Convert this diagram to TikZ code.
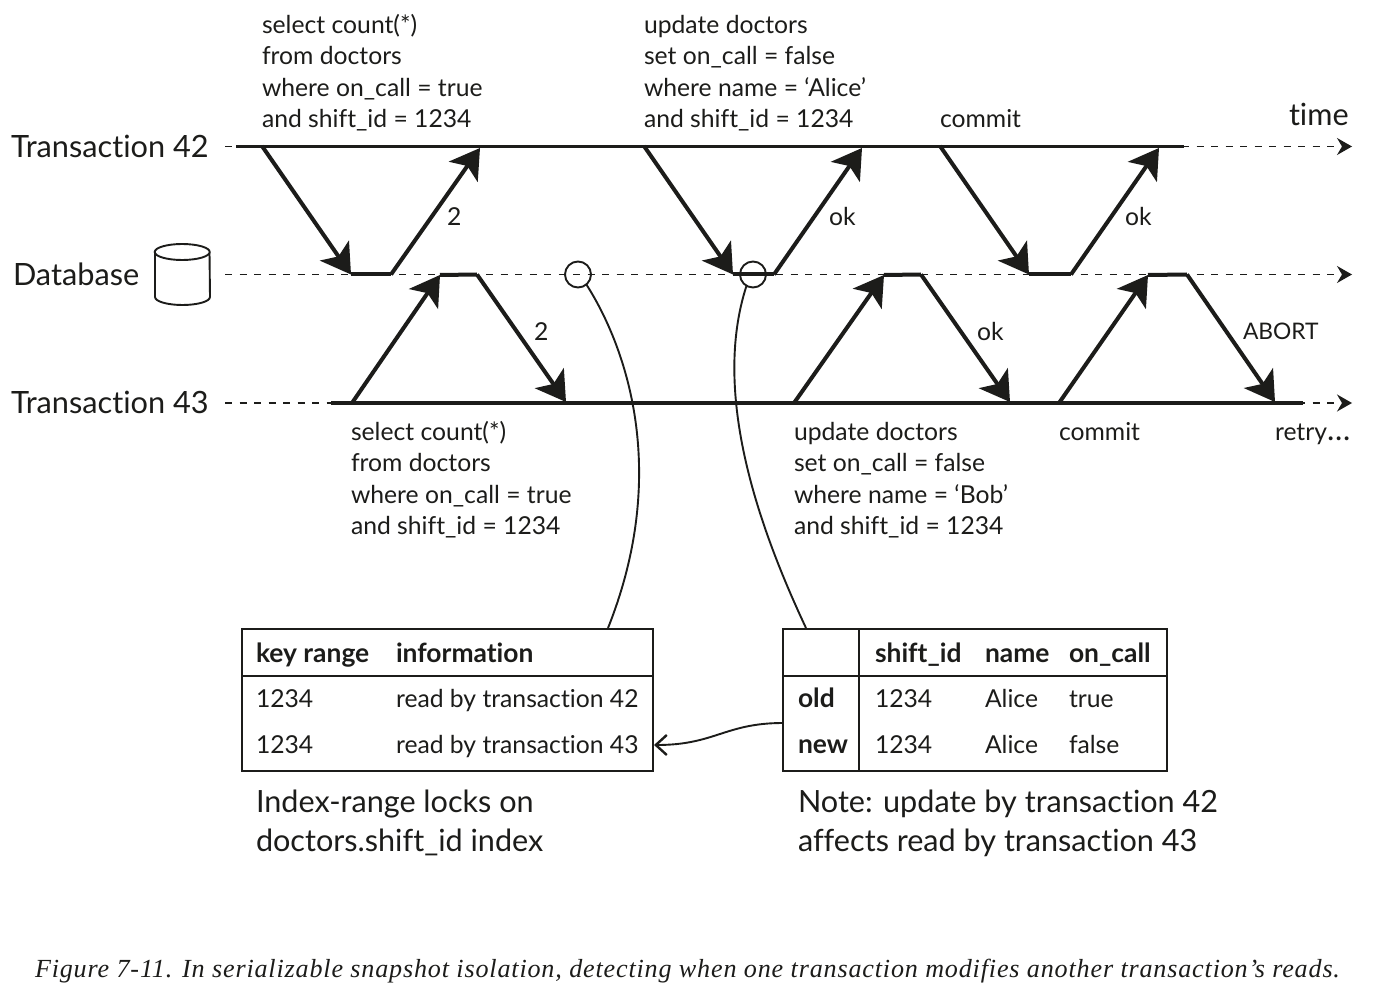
\documentclass[tikz,border=0pt]{standalone}
\usepackage{fontspec}
\setmainfont[Ligatures=CommonOff]{Lato}
\newfontfamily\capfont[LetterSpace=3.2]{Liberation Serif}
\usetikzlibrary{arrows.meta}
\definecolor{ink}{HTML}{1C1C1A}
\tikzset{
  x=1pt,y=-1pt,
  every node/.style={inner sep=0pt,outer sep=0pt,text=ink},
  small/.style={anchor=base west,font=\fontsize{24.7}{24.7}\selectfont},
  smallb/.style={anchor=base west,font=\fontsize{26.4}{26.4}\selectfont\bfseries},
  big/.style={anchor=base west,font=\fontsize{30.7}{30.7}\selectfont},
  mid/.style={anchor=base west,font=\fontsize{30.6}{30.6}\selectfont},
  timeline/.style={ink,line width=3.4pt},
  dashline/.style={ink,line width=1.6pt,dash pattern=on 7pt off 7.5pt,-{Stealth[length=15pt,width=17pt,inset=5pt]}},
  msg/.style={ink,line width=4pt,line join=miter,-{Stealth[length=29pt,width=35pt,inset=7pt]}},
  thin/.style={ink,line width=1.9pt},
  tbl/.style={ink,line width=1.9pt},
}
\begin{document}
\begin{tikzpicture}
\useasboundingbox (0,0) rectangle (1382,1000);
\fill[white] (0,0) rectangle (1382,1000);
% axis ends
\coordinate (aS) at (225,146.5); \coordinate (aE) at (1352,146.5);
\coordinate (bS) at (225,274.5); \coordinate (bE) at (1352,274.5);
\coordinate (cS) at (225,403);   \coordinate (cE) at (1352,403);
\draw[dashline] (aS) -- (aE);
\draw[dashline] (bS) -- (bE);
\draw[dashline] (cS) -- (cE);
\coordinate (a1) at (236,146.5); \coordinate (a2) at (1184,146.5);
\coordinate (c1) at (331,403);   \coordinate (c2) at (1303,403);
\draw[timeline] (a1) -- (a2);
\draw[timeline] (c1) -- (c2);
% messages
\coordinate (A1) at (262,146); \coordinate (A2) at (351,274.5); \coordinate (A3) at (391,274.5); \coordinate (A4) at (480,148);
\coordinate (B1) at (644,146); \coordinate (B2) at (733,274.5); \coordinate (B3) at (774,274.5); \coordinate (B4) at (862,148);
\coordinate (C1) at (940,146); \coordinate (C2) at (1029,274.5); \coordinate (C3) at (1071,274.5); \coordinate (C4) at (1159,148);
\coordinate (D1) at (352,403); \coordinate (D2) at (440,275); \coordinate (D3) at (477,274.5); \coordinate (D4) at (566,402);
\coordinate (E1) at (794,403); \coordinate (E2) at (884,275); \coordinate (E3) at (921,274.5); \coordinate (E4) at (1010,402);
\coordinate (F1) at (1059,403); \coordinate (F2) at (1148,275); \coordinate (F3) at (1187,274.5); \coordinate (F4) at (1275,402);
\foreach \n in {A,B,C,D,E,F}{
  \draw[msg] (\n1) -- (\n2);
  \draw[ink,line width=4pt,line cap=butt] (\n2) -- (\n3);
  \draw[msg] (\n3) -- (\n4);
}
% left labels
\node[big] (t42) at (11,157.5) {Transaction 42};
\node[big] (db) at (13,285.5) {Database};
\node[big] (t43) at (11,413) {Transaction 43};
\node[mid] (time) at (1289,126) {time};
% cylinder
\draw[ink,line width=1.9pt,fill=white] (155,252) -- (155,297) arc[start angle=180,end angle=0,x radius=27.5,y radius=8] -- (209.5,252);
\draw[ink,line width=1.9pt,fill=white] (182.2,252) ellipse[x radius=27.5,y radius=8];
% top queries
\node[small] (q1a) at (262,34) {select count(*)};
\node[small] (q1b) at (262,65) {from doctors};
\node[small] (q1c) at (262,97) {where on\_call = true};
\node[small] (q1d) at (262,128) {and shift\_id = 1234};
\node[small] (q2a) at (644,34) {update doctors};
\node[small] (q2b) at (644,65) {set on\_call = false};
\node[small] (q2c) at (644,97) {where name = ‘Alice’};
\node[small] (q2d) at (644,128) {and shift\_id = 1234};
\node[small] (q3) at (940,128) {commit};
% bottom queries
\node[small] (r1a) at (351,440.5) {select count(*)};
\node[small] (r1b) at (351,471.5) {from doctors};
\node[small] (r1c) at (351,503) {where on\_call = true};
\node[small] (r1d) at (351,534) {and shift\_id = 1234};
\node[small] (r2a) at (794,440.5) {update doctors};
\node[small] (r2b) at (794,471.5) {set on\_call = false};
\node[small] (r2c) at (794,503) {where name = ‘Bob’};
\node[small] (r2d) at (794,534) {and shift\_id = 1234};
\node[small] (r3) at (1059,440.5) {commit};
\node[small] (r4) at (1275,440.5) {retry{\fontsize{31}{31}\selectfont …}};
% replies
\node[small] (l1) at (447,226) {2};
\node[small] (l2) at (829,226) {ok};
\node[small] (l3) at (1125,226) {ok};
\node[small] (l4) at (534,340.5) {2};
\node[small] (l5) at (977,340.5) {ok};
\node[small,font=\fontsize{22.8}{22.8}\selectfont] (l6) at (1243,340) {ABORT};
% tables
\draw[tbl] (242,629) rectangle (653,771);
\draw[tbl] (242,676) -- (653,676);
\draw[tbl] (783,629) rectangle (1167,771);
\draw[tbl] (783,676) -- (1167,676);
\draw[tbl] (859,629) -- (859,771);
\coordinate (T1tl) at (608,628); \coordinate (T2tl) at (806,628);
\coordinate (T1r) at (654,745); \coordinate (T2l) at (783,723);
\node[smallb] (h1) at (256,662) {key range};
\node[smallb] (h2) at (396,662) {information};
\node[small] (k1) at (256,707) {1234};
\node[small] (i1) at (396,707) {read by transaction 42};
\node[small] (k2) at (256,753) {1234};
\node[small] (i2) at (396,753) {read by transaction 43};
\node[smallb] (u1) at (875,662) {shift\_id};
\node[smallb] (u2) at (985,662) {name};
\node[smallb] (u3) at (1069,662) {on\_call};
\node[smallb] (o) at (798,707.5) {old};
\node[small] (v1) at (875,707) {1234};
\node[small] (v2) at (985,707) {Alice};
\node[small] (v3) at (1069,707) {true};
\node[smallb] (n) at (798,753.5) {new};
\node[small] (w1) at (875,753) {1234};
\node[small] (w2) at (985,753) {Alice};
\node[small] (w3) at (1069,753) {false};
% circles and leaders
\node[draw=ink,line width=1.9pt,circle,minimum size=26pt] (c1c) at (578,274.5) {};
\node[draw=ink,line width=1.9pt,circle,minimum size=26pt] (c2c) at (753,274.5) {};
\draw[thin] (c1c.-50) .. controls (625,345) and (671,470) .. (T1tl);
\draw[thin] (c2c.-120) .. controls (711,395) and (760,530) .. (T2tl);
\draw[thin,-{Straight Barb[length=11pt,width=20pt,line width=2.4pt]}] (T2l) .. controls (725,723) and (715,745) .. (T1r);
% captions
\node[mid] (n1a) at (256,812) {Index-range locks on};
\node[mid] (n1b) at (256,851) {doctors.shift\_id index};
\node[mid] (n2a) at (798,812) {Note: update by transaction 42};
\node[mid] (n2b) at (798,851) {affects read by transaction 43};
\node[anchor=base west,font=\capfont\itshape\fontsize{26.1}{26.1}\selectfont] (cap) at (35,977) {Figure 7-11. In serializable snapshot isolation, detecting when one transaction modifies another transaction’s reads.};
\end{tikzpicture}
\end{document}
